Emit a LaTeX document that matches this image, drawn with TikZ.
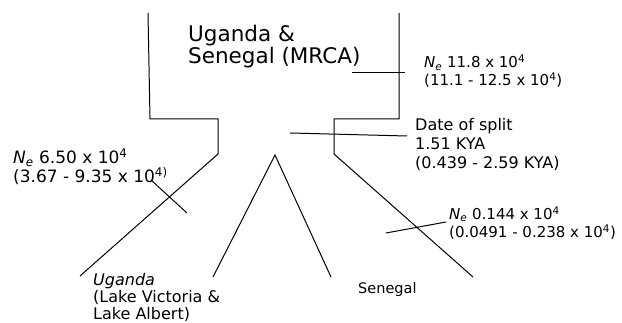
\documentclass[tikz,border=0pt]{standalone}
\usepackage{fontspec}
\setmainfont{DejaVu Sans}
\newcommand{\Ne}{\textit{N}\textsubscript{\textit{e}}}
\newcommand{\tfour}{\textsuperscript{4}}
\tikzset{
  branch/.style={line width=1pt, line join=miter},
  lbl/.style={anchor=base west, align=left, inner sep=0pt},
}
\begin{document}
\begin{tikzpicture}[x=1pt, y=-1pt]
\useasboundingbox (0,0) rectangle (622,323);
% outer tree
\draw[branch] (148,13) -- (150,119) -- (218,119) -- (218,154) -- (80,276);
\draw[branch] (399,13) -- (399,119) -- (334,119) -- (334,154) -- (473,277);
% inner split
\draw[branch] (213,277) -- (275,155) -- (331,277);
% ticks
\draw[branch] (352,73) -- (405,73);
\draw[branch] (290,133) -- (407,136);
\draw[branch] (151,180) -- (187,213);
\draw[branch] (386,233) -- (446,222);
% labels (base = last line)
\node[lbl, font=\fontsize{21.5}{22}\selectfont] (mrca) at (188,64)
  {Uganda \&\\Senegal (MRCA)};
\node[lbl, font=\fontsize{15}{18}\selectfont] (neanc) at (424,86)
  {\Ne{} 11.8 x 10\tfour\\(11.1 - 12.5 x 10\tfour)};
\node[lbl, font=\fontsize{16}{19}\selectfont] (split) at (415,169)
  {Date of split\\1.51 KYA\\(0.439 - 2.59 KYA)};
\node[lbl, font=\fontsize{17}{18}\selectfont] (neuga) at (13,183)
  {\Ne{} 6.50 x 10\tfour\\(3.67 - 9.35 x 10\textsuperscript{4)}};
\node[lbl, font=\fontsize{15}{18.5}\selectfont] (nesen) at (449,238)
  {\Ne{} 0.144 x 10\tfour\\(0.0491 - 0.238 x 10\tfour)};
\node[lbl, font=\fontsize{16}{17.5}\selectfont] (uga) at (93,320)
  {\textit{Uganda}\\(Lake Victoria \&\\Lake Albert)};
\node[lbl, font=\fontsize{14.5}{17}\selectfont] (sen) at (358,294) {Senegal};
\end{tikzpicture}
\end{document}
